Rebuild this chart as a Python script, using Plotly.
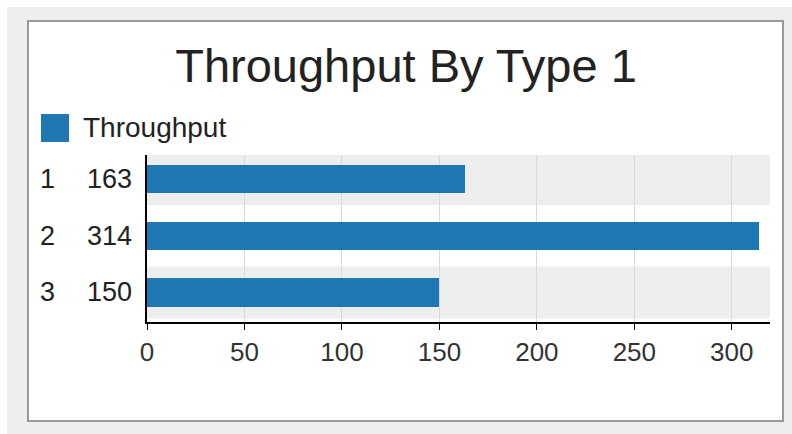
import plotly.graph_objects as go

# Data
categories = ["1", "2", "3"]
throughput = [163, 314, 150]
series_name = "Throughput"
x_ticks = [0, 50, 100, 150, 200, 250, 300]
title_text = "Throughput By Type 1"

BAR_COLOR = "#1f77b4"
BAND_COLOR = "#eeeeee"
FONT = "Liberation Sans, Arial, sans-serif"

W, H = 792, 434
L, R, T, B = 147, 22, 155, 112
PW, PH = W - L - R, H - T - B


def px_x(x):
    return (x - L) / PW


def px_y(y):
    return (H - B - y) / PH


y_pos = list(range(len(categories)))
y_range = [2.52, -0.423]

fig = go.Figure()
fig.add_trace(go.Bar(
    x=throughput,
    y=y_pos,
    orientation="h",
    width=0.5,
    marker=dict(color=BAR_COLOR, line=dict(width=0)),
    name=series_name,
    showlegend=False,
    hoverinfo="x",
))

shapes = [
    # outer frame background
    dict(type="rect", xref="paper", yref="paper",
         x0=px_x(7), x1=px_x(W), y0=px_y(H), y1=px_y(7),
         fillcolor="#eeeeee", line=dict(width=0), layer="below"),
    # white card with border
    dict(type="rect", xref="paper", yref="paper",
         x0=px_x(28), x1=px_x(783), y0=px_y(421), y1=px_y(21),
         fillcolor="white", line=dict(color="#9a9a9a", width=2), layer="below"),
    # legend swatch
    dict(type="rect", xref="paper", yref="paper",
         x0=px_x(41), x1=px_x(69), y0=px_y(142), y1=px_y(114),
         fillcolor=BAR_COLOR, line=dict(width=0)),
]

# alternating row bands
lo, hi = min(y_range), max(y_range)
for i in y_pos:
    if i % 2 == 0:
        shapes.append(dict(
            type="rect", xref="paper", yref="y",
            x0=0, x1=1,
            y0=max(i - 0.46, lo), y1=min(i + 0.46, hi),
            fillcolor=BAND_COLOR, line=dict(width=0), layer="below"))

annotations = [
    dict(text=series_name, xref="paper", yref="paper",
         x=px_x(81), y=px_y(127), xanchor="left", yanchor="middle",
         showarrow=False, font=dict(family=FONT, size=28, color="#222222")),
]
for i, (c, v) in enumerate(zip(categories, throughput)):
    annotations.append(dict(
        text=c, xref="paper", yref="y", x=px_x(48), y=i,
        xanchor="center", yanchor="middle", showarrow=False,
        font=dict(family=FONT, size=27, color="#222222")))
    annotations.append(dict(
        text=str(v), xref="paper", yref="y", x=px_x(134), y=i,
        xanchor="right", yanchor="middle", showarrow=False,
        font=dict(family=FONT, size=27, color="#222222")))

fig.update_layout(
    width=W, height=H,
    margin=dict(l=L, r=R, t=T, b=B, pad=0),
    paper_bgcolor="white",
    plot_bgcolor="rgba(0,0,0,0)",
    font=dict(family=FONT, size=26, color="#222222"),
    title=dict(text=title_text, x=406 / W, xref="container", xanchor="center",
               y=1 - 66 / H, yref="container", yanchor="middle",
               font=dict(family=FONT, size=47, color="#222222")),
    showlegend=False,
    shapes=shapes,
    annotations=annotations,
    bargap=0,
)

fig.update_xaxes(
    range=[0, 319.6],
    tickvals=x_ticks,
    ticktext=[str(t) for t in x_ticks],
    showgrid=True, gridcolor="#dadada", gridwidth=1,
    showline=True, linecolor="black", linewidth=2,
    ticks="outside", ticklen=6, tickcolor="black", tickwidth=1,
    tickfont=dict(family=FONT, size=26, color="#333333"),
    zeroline=False, fixedrange=True,
)
fig.update_yaxes(
    range=y_range,
    tickvals=y_pos,
    showticklabels=False,
    showgrid=False,
    showline=True, linecolor="black", linewidth=2,
    zeroline=False, fixedrange=True,
)

fig.write_html("out.html")
